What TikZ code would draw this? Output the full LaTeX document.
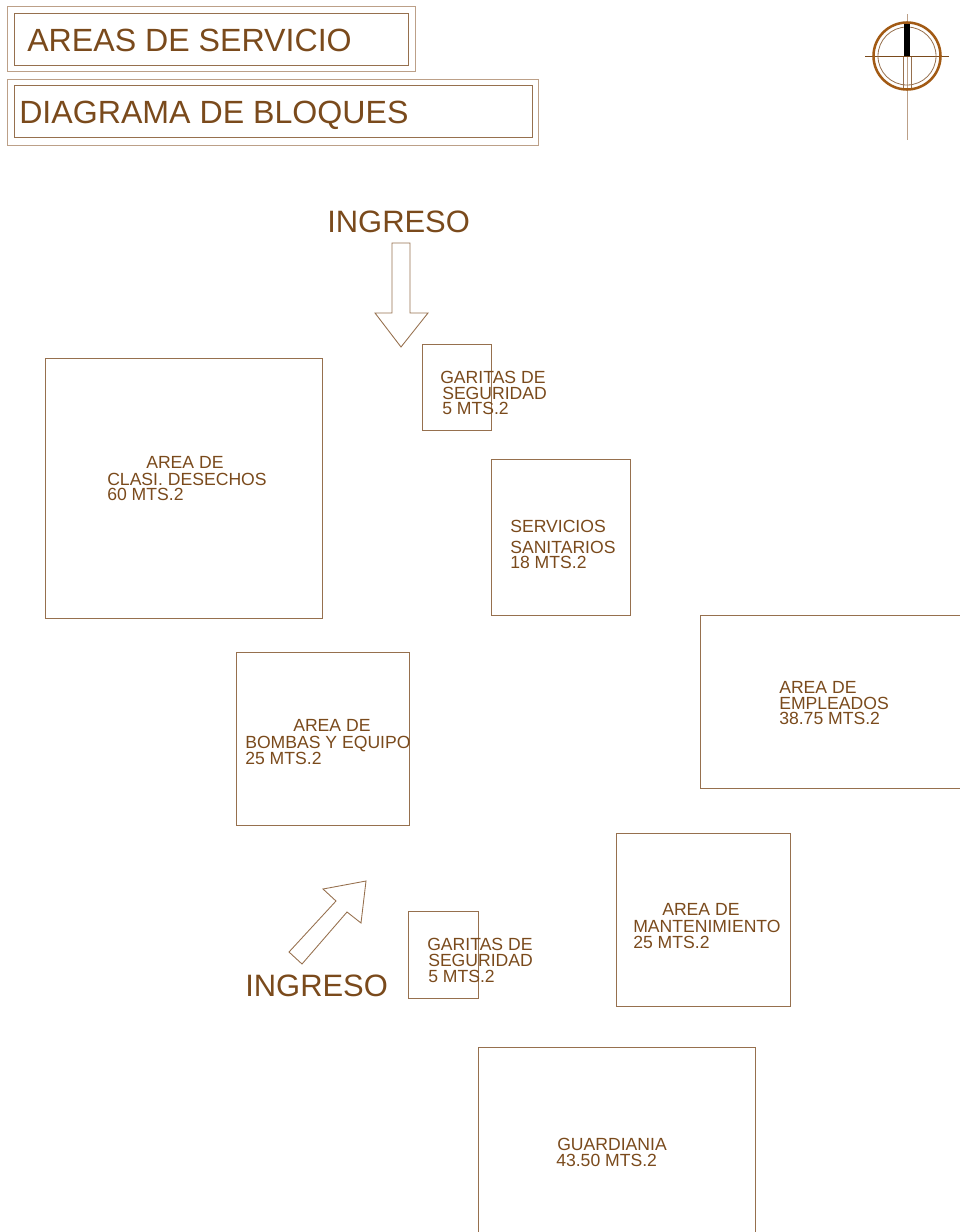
\documentclass[tikz,border=0pt]{standalone}
\usepackage{fontspec}
\setmainfont{Liberation Sans}
\usepackage{xcolor}
\usetikzlibrary{positioning}
\definecolor{cafe}{HTML}{7A4A1C}
\definecolor{linea}{HTML}{96704E}
\definecolor{claro}{HTML}{BCA088}
\newlength{\px}
\setlength{\px}{0.75pt}
\tikzset{
	room/.style={draw=linea, line width=0.65pt, rectangle, anchor=north west, inner sep=0pt, xshift=-0.4\px, yshift=0.4\px},
	marco/.style={draw=claro, line width=0.9pt, rectangle, anchor=north west, inner sep=0pt, xshift=-0.4\px, yshift=0.4\px},
	rotulo/.style={text=cafe, anchor=base west, inner sep=0pt, font=\fontsize{13.2}{15}\selectfont},
	titulo/.style={text=cafe, anchor=base west, inner sep=0pt, font=\fontsize{24.1}{28}\selectfont},
	ingreso/.style={text=cafe, anchor=base west, inner sep=0pt, font=\fontsize{23.2}{28}\selectfont},
	flecha/.style={draw=linea, line width=0.65pt, line join=miter}
}

\begin{document}
\begin{tikzpicture}[x=0.75pt, y=-0.75pt]
	\clip (0,0) rectangle (960,1232);

	% titulos
	\node[marco, minimum width=408\px, minimum height=65\px] (t1o) at (7,6) {};
	\node[room, minimum width=394\px, minimum height=52\px] (t1i) at (14,13) {};
	\node[marco, minimum width=531\px, minimum height=66\px] (t2o) at (7,79) {};
	\node[room, minimum width=518\px, minimum height=52\px] (t2i) at (14,85) {};
	\node[titulo] (t1) at (27,51) {AREAS DE SERVICIO};
	\node[titulo] (t2) at (19,123) {DIAGRAMA DE BLOQUES};

	% norte
	\draw[claro, line width=0.7pt] (907,14) -- (907,140);
	\draw[linea, line width=0.7pt] (903,56) -- (903,88) (911,56) -- (911,88);
	\draw[cafe, line width=0.7pt] (865,56) -- (949,56);
	\draw[linea, line width=0.6pt] (907,56) circle (29);
	\draw[cafe!70!orange, line width=1.9pt] (907,56) circle (33.5);
	\fill[black] (904,24) rectangle (910,56);

	% ingresos
	\node[ingreso] (ing1) at (327,232) {INGRESO};
	\node[ingreso] (ing2) at (245,996) {INGRESO};
	\draw[flecha] (392,243) -- (410,243) -- (410,313) -- (428,313) -- (401,347)
		-- (375,313) -- (392,313) -- cycle;
	\draw[flecha] (289,952) -- (302,964) -- (347,912) -- (361,923) -- (366,881)
		-- (323,889) -- (336,901) -- cycle;

	% bloques
	\node[room, minimum width=277\px, minimum height=260\px] (clasi) at (45,358) {};
	\node[room, minimum width=69\px, minimum height=86\px] (gar1) at (422,344) {};
	\node[room, minimum width=139\px, minimum height=156\px] (serv) at (491,459) {};
	\node[room, minimum width=270\px, minimum height=173\px] (empl) at (700,615) {};
	\node[room, minimum width=173\px, minimum height=173\px] (bomb) at (236,652) {};
	\node[room, minimum width=174\px, minimum height=173\px] (mant) at (616,833) {};
	\node[room, minimum width=70\px, minimum height=87\px] (gar2) at (408,911) {};
	\node[room, minimum width=277\px, minimum height=195\px] (guar) at (478,1047) {};

	% rotulos
	\node[rotulo] (c1) at (146,468) {AREA DE};
	\node[rotulo] (c2) at (107,485) {CLASI. DESECHOS};
	\node[rotulo] (c3) at (107,500) {60 MTS.2};

	\node[rotulo] (g1) at (440,383) {GARITAS DE};
	\node[rotulo] (g2) at (442,399) {SEGURIDAD};
	\node[rotulo] (g3) at (442,414) {5 MTS.2};

	\node[rotulo] (s1) at (510,532) {SERVICIOS};
	\node[rotulo] (s2) at (510,553) {SANITARIOS};
	\node[rotulo] (s3) at (510,568) {18 MTS.2};

	\node[rotulo] (e1) at (779,693) {AREA DE};
	\node[rotulo] (e2) at (779,709) {EMPLEADOS};
	\node[rotulo] (e3) at (779,724) {38.75 MTS.2};

	\node[rotulo] (b1) at (293,731) {AREA DE};
	\node[rotulo] (b2) at (245,748) {BOMBAS Y EQUIPO};
	\node[rotulo] (b3) at (245,764) {25 MTS.2};

	\node[rotulo] (m1) at (662,915) {AREA DE};
	\node[rotulo] (m2) at (633,932) {MANTENIMIENTO};
	\node[rotulo] (m3) at (633,948) {25 MTS.2};

	\node[rotulo] (h1) at (427,950) {GARITAS DE};
	\node[rotulo] (h2) at (428,966) {SEGURIDAD};
	\node[rotulo] (h3) at (428,982) {5 MTS.2};

	\node[rotulo] (u1) at (557,1150) {GUARDIANIA};
	\node[rotulo] (u2) at (556,1166) {43.50 MTS.2};
\end{tikzpicture}
\end{document}
